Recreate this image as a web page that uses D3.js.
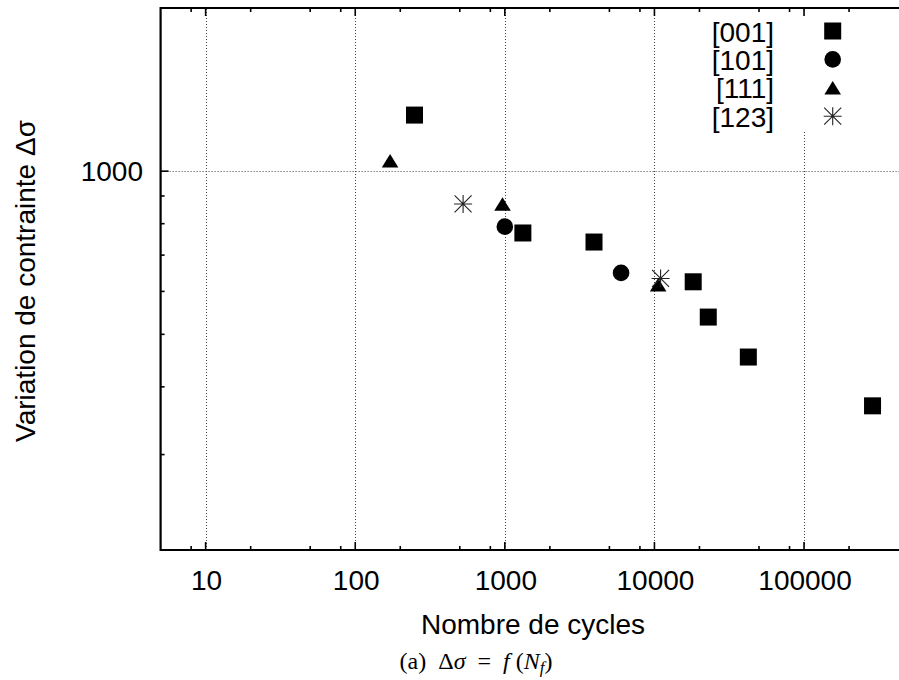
<!DOCTYPE html>
<html>
<head>
<meta charset="utf-8">
<script src="https://cdn.jsdelivr.net/npm/d3@7"></script>
<style>
  body { margin: 0; background: #fff; }
  svg { display: block; }
  .sans { font-family: "Liberation Sans", Arial, Helvetica, sans-serif; }
  .serif { font-family: "Liberation Serif", "DejaVu Serif", serif; }
</style>
</head>
<body>
<div id="chart"></div>
<script>
// cycles to failure (N) and stress range (delta sigma) per orientation
const n001 = [249, 1320, 3945, 18160, 22900, 42430, 287000];
const s001 = [1269, 769, 740, 625, 538, 454, 369];
const n101 = [1000, 5984];
const s101 = [790, 649];
const n111 = [171, 965, 10590];
const s111 = [1045, 870, 617];
const n123 = [526, 10990];
const s123 = [870, 634];

const seriesNames = ['[001]', '[101]', '[111]', '[123]'];
const xTickValues = [10, 100, 1000, 10000, 100000];
const yTickValues = [1000];
const yMinorValues = [300, 400, 500, 600, 700, 800, 900];

const width = 899, height = 680;

const svg = d3.select('#chart')
  .append('svg')
  .attr('width', width)
  .attr('height', height);

const x = d3.scaleLog().domain([5, 500000]).range([160.6, 908.6]);
const y = d3.scaleLog().domain([200, 2000]).range([550, 8]);

// minor x ticks at 2, 5, 8 of each decade
const xMinorValues = [];
[1, 10, 100, 1000, 10000, 100000].forEach(d => {
  [2, 5, 8].forEach(m => {
    const v = d * m;
    if (v > 5 && v < 500000) xMinorValues.push(v);
  });
});

// grid
const grid = svg.append('g')
  .attr('stroke', '#444')
  .attr('stroke-width', 1)
  .attr('stroke-dasharray', '1,2');

grid.selectAll('line.gx')
  .data(xTickValues)
  .join('line')
  .attr('class', 'gx')
  .attr('x1', d => Math.round(x(d)) + 0.5)
  .attr('x2', d => Math.round(x(d)) + 0.5)
  .attr('y1', y(200))
  .attr('y2', y(2000));

grid.selectAll('line.gy')
  .data(yTickValues)
  .join('line')
  .attr('class', 'gy')
  .attr('x1', x(5))
  .attr('x2', x(500000))
  .attr('y1', d => Math.round(y(d)) + 0.5)
  .attr('y2', d => Math.round(y(d)) + 0.5);

// legend (opaque box hides the grid behind it)
const legend = svg.append('g');
legend.append('rect')
  .attr('x', 690).attr('y', 10)
  .attr('width', 180).attr('height', 121)
  .attr('fill', '#fff');

const symbolSquare = g => g.append('rect')
  .attr('x', -8.5).attr('y', -8.5)
  .attr('width', 17).attr('height', 17)
  .attr('fill', '#000');
const symbolCircle = g => g.append('circle')
  .attr('r', 8.3)
  .attr('fill', '#000');
const symbolTriangle = g => g.append('path')
  .attr('d', 'M0,-6.8L8.3,6.8L-8.3,6.8Z')
  .attr('fill', '#000');
const symbolStar = g => g.append('path')
  .attr('d', 'M-9,0H9M0,-9V9M-8.5,-8.5L8.5,8.5M-8.5,8.5L8.5,-8.5')
  .attr('stroke', '#222')
  .attr('stroke-width', 1.1)
  .attr('fill', 'none');

const symbols = [symbolSquare, symbolCircle, symbolTriangle, symbolStar];

seriesNames.forEach((name, i) => {
  const cy = 31 + i * 28.4;
  legend.append('text')
    .attr('class', 'sans')
    .attr('x', 774)
    .attr('y', cy + 10.5)
    .attr('text-anchor', 'end')
    .style('font-size', '28px')
    .text(name);
  const g = legend.append('g').attr('transform', `translate(832.7,${cy})`);
  symbols[i](g);
});

// points
const allSeries = [
  { n: n001, s: s001, sym: symbolSquare },
  { n: n101, s: s101, sym: symbolCircle },
  { n: n111, s: s111, sym: symbolTriangle },
  { n: n123, s: s123, sym: symbolStar },
];

const pts = svg.append('g');
allSeries.forEach(ser => {
  const data = ser.n.map((v, i) => ({ n: v, s: ser.s[i] }));
  pts.selectAll(null)
    .data(data)
    .join('g')
    .attr('transform', d => `translate(${x(d.n)},${y(d.s)})`)
    .each(function () { ser.sym(d3.select(this)); });
});

// frame
const frame = svg.append('g').attr('stroke', '#000').attr('fill', 'none');
frame.append('path')
  .attr('d', `M${x(500000) + 2},${y(2000)}H${x(5)}V${y(200)}H${x(500000) + 2}`)
  .attr('stroke-width', 2.2);

// ticks
const ticks = svg.append('g').attr('stroke', '#000').attr('stroke-width', 1.6);
ticks.selectAll('line.xmaj')
  .data(xTickValues.flatMap(v => [{ v, top: false }, { v, top: true }]))
  .join('line')
  .attr('x1', d => x(d.v)).attr('x2', d => x(d.v))
  .attr('y1', d => d.top ? y(2000) : y(200))
  .attr('y2', d => d.top ? y(2000) + 8 : y(200) - 8);
ticks.selectAll('line.xmin')
  .data(xMinorValues.flatMap(v => [{ v, top: false }, { v, top: true }]))
  .join('line')
  .attr('x1', d => x(d.v)).attr('x2', d => x(d.v))
  .attr('y1', d => d.top ? y(2000) : y(200))
  .attr('y2', d => d.top ? y(2000) + 4 : y(200) - 4);
ticks.selectAll('line.ymaj')
  .data(yTickValues)
  .join('line')
  .attr('x1', x(5)).attr('x2', x(5) + 8)
  .attr('y1', d => y(d)).attr('y2', d => y(d));
ticks.selectAll('line.ymin')
  .data(yMinorValues)
  .join('line')
  .attr('x1', x(5)).attr('x2', x(5) + 4)
  .attr('y1', d => y(d)).attr('y2', d => y(d));

// tick labels
svg.append('g').selectAll('text')
  .data(xTickValues)
  .join('text')
  .attr('class', 'sans')
  .attr('x', d => x(d) + 1)
  .attr('y', 589.5)
  .attr('text-anchor', 'middle')
  .style('font-size', '28px')
  .text(d => d3.format('d')(d));

svg.append('g').selectAll('text')
  .data(yTickValues)
  .join('text')
  .attr('class', 'sans')
  .attr('x', 143)
  .attr('y', d => y(d) + 9.5)
  .attr('text-anchor', 'end')
  .style('font-size', '28px')
  .text(d => d3.format('d')(d));

// axis titles
svg.append('text')
  .attr('class', 'sans')
  .attr('x', 533)
  .attr('y', 633.5)
  .attr('text-anchor', 'middle')
  .style('font-size', '28px')
  .text('Nombre de cycles');

svg.append('text')
  .attr('class', 'sans')
  .attr('transform', 'translate(35,281) rotate(-90)')
  .attr('text-anchor', 'middle')
  .style('font-size', '28px')
  .text('Variation de contrainte Δσ');

// caption
const cap = svg.append('text')
  .attr('class', 'serif')
  .attr('x', 476)
  .attr('y', 669)
  .attr('text-anchor', 'middle')
  .style('font-size', '24px')
  .style('white-space', 'pre');
cap.append('tspan').text('(a)  Δ');
cap.append('tspan').style('font-style', 'italic').text('σ');
cap.append('tspan').text('  =  ');
cap.append('tspan').style('font-style', 'italic').text('f');
cap.append('tspan').text(' (');
cap.append('tspan').style('font-style', 'italic').text('N');
cap.append('tspan').style('font-style', 'italic').style('font-size', '17px').attr('dy', 4).text('f');
cap.append('tspan').attr('dy', -4).text(')');
</script>
</body>
</html>
